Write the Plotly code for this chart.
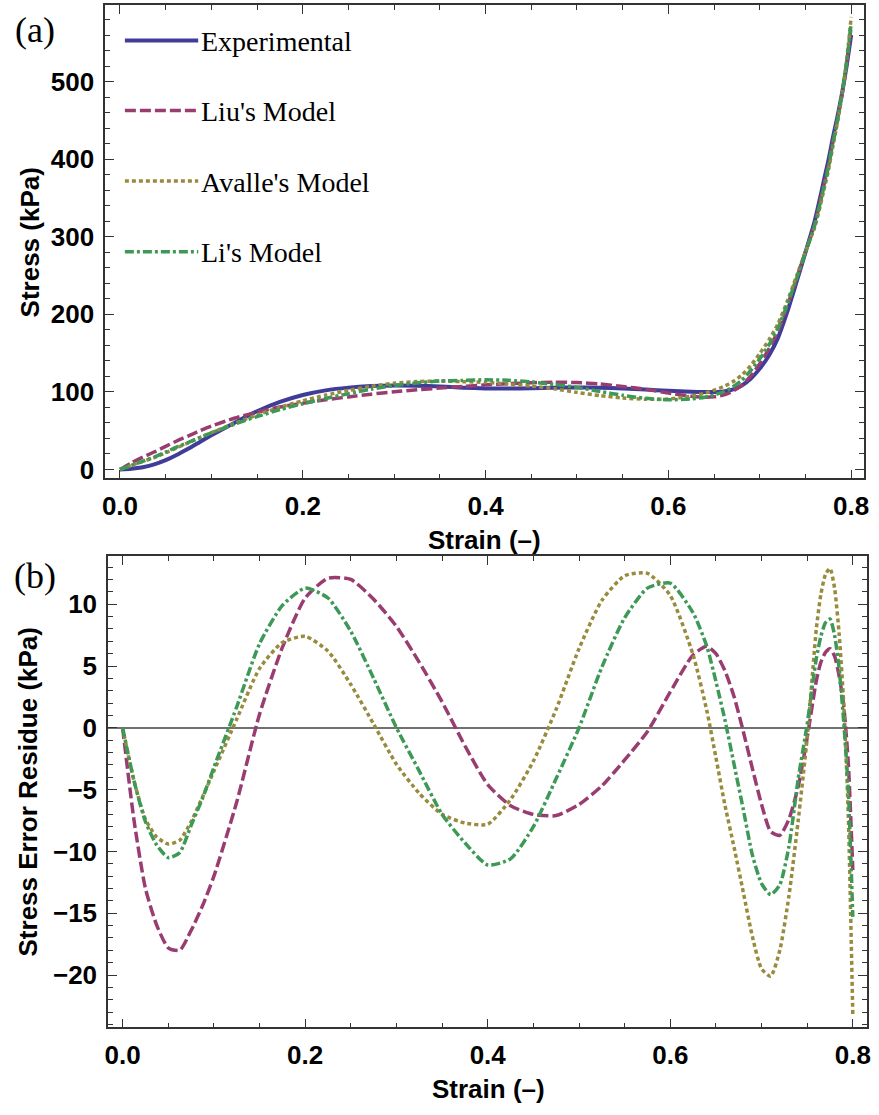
import plotly.graph_objects as go

# Strain samples shared by all series (finer near the densification knee)
strain = [0, 0.0125, 0.025, 0.0375, 0.05, 0.0625, 0.075, 0.0875, 0.1, 0.125,
          0.15, 0.175, 0.2, 0.225, 0.25, 0.275, 0.3, 0.325, 0.35, 0.375,
          0.4, 0.425, 0.45, 0.475, 0.5, 0.525, 0.55, 0.575, 0.6, 0.625,
          0.64, 0.65, 0.66, 0.67, 0.68, 0.69, 0.7, 0.71, 0.72, 0.73,
          0.74, 0.75, 0.76, 0.765, 0.77, 0.775, 0.78, 0.785, 0.79, 0.795, 0.8]

# Stress (kPa)
experimental_stress = [0, 1.0, 3.0, 6.5, 12, 19, 27, 35.5, 44, 60,
                       75, 87, 96, 102, 105.5, 107.5, 108.3, 108, 107, 105.5,
                       104.5, 104.3, 104.8, 105.5, 105.8, 105.5, 104.5, 103, 101.5, 100.3,
                       99.8, 99.8, 100.5, 103, 108, 117, 130, 147, 170, 203,
                       241, 280, 320, 345, 372, 398, 428, 455, 485, 520, 560]
liu_stress = [0, 8.5, 16, 22.5, 29.8, 37, 43.4, 49.9, 56, 66,
              73.9, 80.5, 85.5, 89.9, 93.5, 97.1, 100.1, 102.7, 104.9, 107.0,
              109.1, 110.6, 111.8, 112.6, 112.0, 110.2, 107.1, 103.3, 98.6, 94.4,
              93.2, 93.8, 95.9, 100.5, 108.3, 120.3, 136.2, 155.4, 178.7, 210.4,
              245.8, 280.8, 316.2, 339.7, 365.9, 391.6, 422.2, 450.8, 483.2, 522.8, 571.5]
avalle_stress = [0, 5.3, 10.4, 15.4, 21.4, 28.1, 34.6, 41.1, 47.5, 59.3,
                 70.2, 80.1, 88.6, 95.8, 102.0, 107.2, 111.3, 113.3, 114.0, 113.2,
                 112.3, 110.1, 107.5, 104.0, 99.4, 95.2, 92.2, 90.5, 90.8, 94.4,
                 98.4, 102.2, 106.8, 112.7, 121.3, 133.9, 149.5, 167.1, 188.0, 216.6,
                 248.6, 280.8, 312.0, 334.2, 359.6, 385.1, 416.7, 447.4, 483.0, 527.0, 583.3]
li_stress = [0, 5.3, 10.6, 16.0, 22.5, 29.1, 34.9, 41.2, 47.2, 58.3,
             68.2, 77.1, 84.7, 91.5, 97.7, 103.5, 108.3, 111.5, 114.0, 114.8,
             115.6, 114.9, 112.8, 109.6, 105.8, 100.6, 95.6, 91.7, 89.8, 91.0,
             93.2, 96.1, 99.9, 106.0, 114.6, 127.3, 142.6, 160.5, 182.7, 212.6,
             245.2, 279.7, 314.4, 337.6, 363.5, 389.2, 420.5, 450.2, 484.5, 525.0, 575.3]

# Stress error residue (kPa)
liu_residue = [0, -7.5, -13.0, -16.0, -17.8, -18.0, -16.4, -14.4, -12.0, -6.0,
               1.1, 6.5, 10.5, 12.1, 12.0, 10.4, 8.2, 5.3, 2.1, -1.45,
               -4.6, -6.3, -7.0, -7.1, -6.2, -4.7, -2.6, -0.3, 2.9, 5.9,
               6.6, 6.0, 4.6, 2.5, -0.3, -3.3, -6.2, -8.4, -8.7, -7.4,
               -4.8, -0.8, 3.8, 5.3, 6.1, 6.4, 5.8, 4.2, 1.8, -2.8, -11.5]
avalle_residue = [0, -4.3, -7.4, -8.85, -9.4, -9.1, -7.6, -5.6, -3.5, 0.7,
                  4.8, 6.9, 7.4, 6.2, 3.5, 0.3, -2.95, -5.3, -7.0, -7.7,
                  -7.8, -5.8, -2.7, 1.5, 6.4, 10.3, 12.3, 12.5, 10.7, 5.9,
                  1.4, -2.4, -6.3, -9.7, -13.3, -16.9, -19.5, -20.1, -18.0, -13.6,
                  -7.6, -0.8, 8.0, 10.8, 12.4, 12.9, 11.3, 7.6, 2.0, -7.0, -23.3]
li_residue = [0, -4.3, -7.6, -9.5, -10.5, -10.1, -7.9, -5.7, -3.2, 1.7,
              6.8, 9.9, 11.3, 10.5, 7.8, 4.0, 0, -3.5, -7.0, -9.3,
              -11.1, -10.6, -8.0, -4.1, 0, 4.9, 8.9, 11.3, 11.7, 9.3,
              6.6, 3.75, 0.6, -3.0, -6.6, -10.3, -12.6, -13.5, -12.7, -9.6,
              -4.2, 0.3, 5.6, 7.4, 8.5, 8.8, 7.5, 4.8, 0.5, -5.0, -15.3]

x_ticks = [0, 0.2, 0.4, 0.6, 0.8]
stress_ticks = [0, 100, 200, 300, 400, 500]
residue_ticks = [-20, -15, -10, -5, 0, 5, 10]

series_names = ["Experimental", "Liu's Model", "Avalle's Model", "Li's Model"]

W, H = 879, 1115
BLUE = "rgb(63,61,153)"
MAGENTA = "rgb(153,61,113)"
OLIVE = "rgb(153,139,61)"
GREEN = "rgb(61,153,86)"

styles = {
    "Experimental": dict(color=BLUE, width=4, dash="solid"),
    "Liu's Model": dict(color=MAGENTA, width=3.5, dash="11px,4px"),
    "Avalle's Model": dict(color=OLIVE, width=3.5, dash="4px,3px"),
    "Li's Model": dict(color=GREEN, width=3.5, dash="9px,3px,3px,3px"),
}

fig = go.Figure()

top_series = [experimental_stress, liu_stress, avalle_stress, li_stress]
for name, ys in zip(series_names, top_series):
    fig.add_trace(go.Scatter(x=strain, y=ys, mode="lines", name=name,
                             line=dict(shape="spline", smoothing=0.6, **styles[name]),
                             xaxis="x", yaxis="y"))

bottom_series = [liu_residue, avalle_residue, li_residue]
for name, ys in zip(series_names[1:], bottom_series):
    fig.add_trace(go.Scatter(x=strain, y=ys, mode="lines", name=name,
                             line=dict(shape="spline", smoothing=0.6, **styles[name]),
                             xaxis="x2", yaxis="y2", showlegend=False))

FRAME = "#333333"
tick_font = dict(family="Liberation Sans, Arial, sans-serif", size=26, color="black", weight="bold")
title_font = dict(family="Liberation Sans, Arial, sans-serif", size=26, color="black", weight="bold")
serif_font = dict(family="Liberation Serif, Times New Roman, serif", size=28, color="black")


def axis_common(minor_step):
    return dict(showline=True, linecolor=FRAME, linewidth=1.5, mirror="ticks",
                ticks="inside", ticklen=9, tickwidth=1.2, tickcolor=FRAME,
                minor=dict(dtick=minor_step, ticks="inside", ticklen=5, tickwidth=1, tickcolor=FRAME),
                showgrid=False, zeroline=False, tickfont=tick_font)


def px_x(p):
    return p / W


def px_y(p):
    return 1 - p / H


fig.update_layout(
    width=W, height=H, margin=dict(l=0, r=0, t=0, b=0),
    paper_bgcolor="white", plot_bgcolor="white", showlegend=False,
    xaxis=dict(domain=[px_x(103), px_x(869)], range=[-0.0163, 0.8141], anchor="y",
               tickvals=x_ticks, tickformat=".1f", ticklabelstandoff=4,
               **axis_common(0.05)),
    yaxis=dict(domain=[px_y(481), px_y(5)], range=[-11.5, 598.7], anchor="x",
               tickvals=stress_ticks, ticklabelstandoff=4,
               **axis_common(20)),
    xaxis2=dict(domain=[px_x(106), px_x(872)], range=[-0.016, 0.8156], anchor="y2",
                tickvals=x_ticks, tickformat=".1f", ticklabelstandoff=4,
                **axis_common(0.05)),
    yaxis2=dict(domain=[px_y(1033), px_y(559)], range=[-24.24, 13.9], anchor="x2",
                tickvals=residue_ticks, ticklabelstandoff=4,
                **axis_common(1)),
)
fig.update_yaxes(zeroline=True, zerolinecolor="#707070", zerolinewidth=2, selector=dict(anchor="x2"))

annotations = [
    dict(text="Strain (–)", x=px_x(486), y=px_y(543), font=title_font),
    dict(text="Strain (–)", x=px_x(490), y=px_y(1095), font=title_font),
    dict(text="Stress (kPa)", x=px_x(27), y=px_y(244), font=title_font, textangle=-90),
    dict(text="Stress Error Residue (kPa)", x=px_x(25), y=px_y(796), font=title_font, textangle=-90),
    dict(text="(a)", x=px_x(32), y=px_y(30), font=dict(serif_font, size=36)),
    dict(text="(b)", x=px_x(32), y=px_y(579), font=dict(serif_font, size=36)),
]
for a in annotations:
    a.update(xref="paper", yref="paper", showarrow=False, xanchor="center", yanchor="middle")
    fig.add_annotation(**a)

# Legend drawn inside panel (a)
legend_rows = [40.7, 111, 182, 253]
shapes = []
for name, row in zip(series_names, legend_rows):
    st = styles[name]
    shapes.append(dict(type="line", xref="paper", yref="paper",
                       x0=px_x(123), x1=px_x(197), y0=px_y(row), y1=px_y(row),
                       line=dict(color=st["color"], width=st["width"], dash=st["dash"])))
    fig.add_annotation(text=name, xref="paper", yref="paper", x=px_x(198), y=px_y(row + 1),
                       xanchor="left", yanchor="middle", showarrow=False, font=serif_font)
fig.update_layout(shapes=shapes)

fig.write_html("out.html")
